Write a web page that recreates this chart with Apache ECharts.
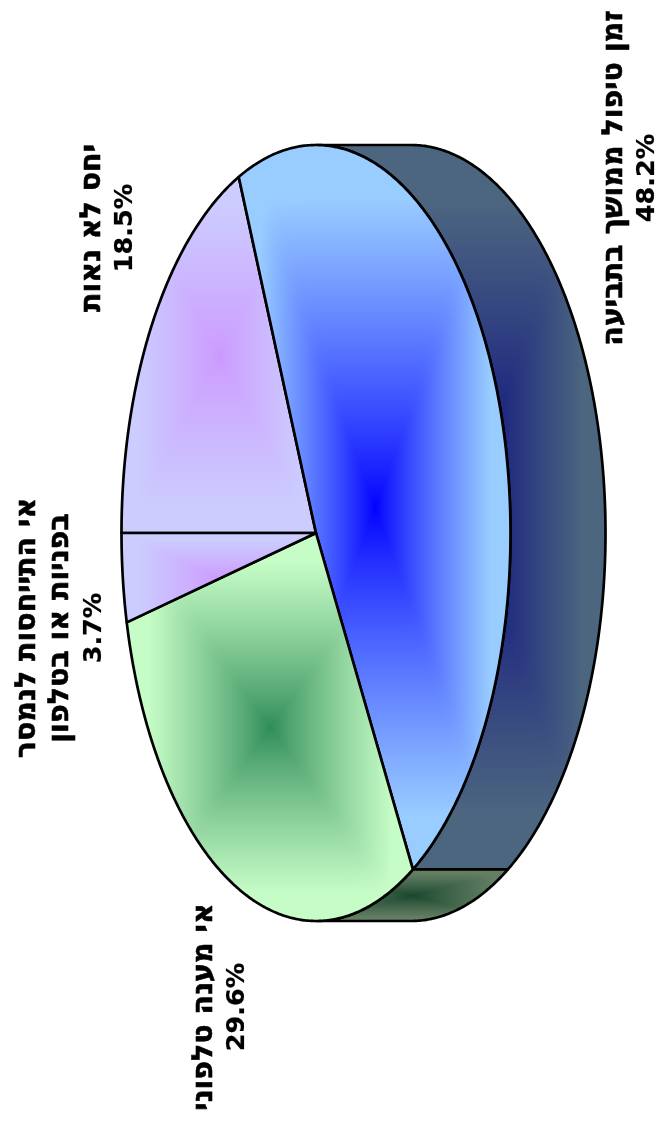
<!DOCTYPE html>
<html lang="he">
<head>
<meta charset="utf-8">
<title>תלונות</title>
<style>
html, body { margin: 0; padding: 0; background: #fff; }
#chart { width: 662px; height: 1124px; }
</style>
<script src="https://cdn.jsdelivr.net/npm/echarts@6/dist/echarts.min.js"></script>
</head>
<body>
<div id="chart"></div>
<script>
// Data, in drawing order around the disc
const categories = [
  'יחס לא נאות',
  'זמן טיפול ממושך בתביעה',
  'אי מענה טלפוני',
  'אי התייחסות לנמסר\nבפניות או בטלפון'
];
const values = [18.5, 48.2, 29.6, 3.7];

// Centre and outer colours of each slice's rectangular fill
const innerColors = [[204, 153, 255], [0, 0, 255], [46, 139, 87], [204, 153, 255]];
const outerColors = [[204, 204, 255], [153, 204, 255], [198, 252, 198], [204, 204, 255]];

// Disc geometry: the pie is turned a quarter turn, so the rim extends to the right
const WIDTH = 662, HEIGHT = 1124;
const CX = 316, CY = 533, RX = 194.5, RY = 388, DEPTH = 95;
const START_DEG = 180;
const FILL_REACH = 0.85, FILL_CURVE = 0.85, CORNER_SOFTNESS = 16;
const SIDE_SHADE = 0.5;
const LINE = 2.7;
const LINE_STEP = 33;
const labelCentres = [[109, 228], [631, 178], [221, 1007], [61, 628]];

const total = values.reduce((a, b) => a + b, 0);
let cursor = START_DEG;
const slices = values.map((v) => {
  const from = cursor;
  cursor += v / total * 360;
  return { from, to: cursor };
});

function ellipsePoint(deg) {
  const t = deg * Math.PI / 180;
  return [CX + RX * Math.cos(t), CY + RY * Math.sin(t)];
}

function arc(from, to) {
  const steps = Math.max(2, Math.ceil(Math.abs(to - from) * 2));
  const pts = [];
  for (let i = 0; i <= steps; i++) pts.push(ellipsePoint(from + (to - from) * i / steps));
  return pts;
}

function boundsOf(points) {
  const xs = points.map(p => p[0]), ys = points.map(p => p[1]);
  return { x0: Math.min(...xs), x1: Math.max(...xs), y0: Math.min(...ys), y1: Math.max(...ys) };
}

// Fill canvas whose colour runs from the middle of the box to its edges along soft rectangles
function boxFill(box, inner, outer) {
  const canvas = document.createElement('canvas');
  canvas.width = WIDTH;
  canvas.height = HEIGHT;
  const ctx = canvas.getContext('2d');
  const img = ctx.createImageData(WIDTH, HEIGHT);
  const mx = (box.x0 + box.x1) / 2, my = (box.y0 + box.y1) / 2;
  const hw = (box.x1 - box.x0) / 2, hh = (box.y1 - box.y0) / 2;
  const p = CORNER_SOFTNESS;
  for (let y = 0; y < HEIGHT; y++) {
    for (let x = 0; x < WIDTH; x++) {
      const dx = Math.abs(x - mx) / hw, dy = Math.abs(y - my) / hh;
      const big = Math.max(dx, dy, 1e-6);
      const d = big * Math.pow(Math.pow(dx / big, p) + Math.pow(dy / big, p), 1 / p);
      const t = Math.pow(Math.min(1, d / FILL_REACH), FILL_CURVE);
      const k = (y * WIDTH + x) * 4;
      img.data[k] = inner[0] + (outer[0] - inner[0]) * t;
      img.data[k + 1] = inner[1] + (outer[1] - inner[1]) * t;
      img.data[k + 2] = inner[2] + (outer[2] - inner[2]) * t;
      img.data[k + 3] = 255;
    }
  }
  ctx.putImageData(img, 0, 0);
  return { image: canvas, repeat: 'no-repeat' };
}

const shade = c => c.map(v => v * SIDE_SHADE);

// Part of a slice's arc that faces the rim side of the disc (from -90° to 90°)
function rimRange(s) {
  for (const turn of [0, 360, 720]) {
    const from = Math.max(s.from, turn - 90), to = Math.min(s.to, turn + 90);
    if (to > from) return [from, to];
  }
  return null;
}

const topShapes = slices.map((s) => [[CX, CY]].concat(arc(s.from, s.to)));
const topFills = topShapes.map((pts, i) => boxFill(boundsOf(pts), innerColors[i], outerColors[i]));

const rimShapes = slices.map((s) => {
  const range = rimRange(s);
  if (!range) return null;
  const front = arc(range[0], range[1]);
  const back = front.slice().reverse().map(p => [p[0] + DEPTH, p[1]]);
  return front.concat(back);
});
const rimFills = rimShapes.map((pts, i) =>
  pts ? boxFill(boundsOf(pts), shade(innerColors[i]), shade(outerColors[i])) : null);

const chart = echarts.init(document.getElementById('chart'), null, { renderer: 'canvas' });

chart.setOption({
  animation: false,
  backgroundColor: '#ffffff',
  series: [
    {
      type: 'custom',
      name: 'rim',
      coordinateSystem: 'none',
      silent: true,
      data: values,
      renderItem(params) {
        const i = params.dataIndex;
        if (!rimShapes[i]) return null;
        return {
          type: 'polygon',
          shape: { points: rimShapes[i] },
          style: { fill: rimFills[i], stroke: '#000', lineWidth: LINE, lineJoin: 'round' }
        };
      }
    },
    {
      type: 'custom',
      name: 'top',
      coordinateSystem: 'none',
      silent: true,
      data: values,
      renderItem(params) {
        const i = params.dataIndex;
        return {
          type: 'polygon',
          shape: { points: topShapes[i] },
          style: { fill: topFills[i], stroke: '#000', lineWidth: LINE, lineJoin: 'round' }
        };
      }
    },
    {
      type: 'custom',
      name: 'labels',
      coordinateSystem: 'none',
      silent: true,
      data: values,
      renderItem(params, api) {
        const i = params.dataIndex;
        const names = categories[i].split('\n');
        const lines = names.concat(api.value(0).toFixed(1) + '%');
        const middle = (lines.length - 1) / 2;
        return {
          type: 'group',
          children: lines.map((line, k) => ({
            type: 'text',
            x: labelCentres[i][0] + (k - middle) * LINE_STEP,
            y: labelCentres[i][1],
            rotation: Math.PI / 2,
            style: {
              text: line,
              font: (k < names.length ? 'bold 28.5px' : 'bold 25.5px') + ' "DejaVu Sans"',
              align: 'center',
              verticalAlign: 'middle',
              fill: '#000',
              stroke: '#000',
              lineWidth: k < names.length ? 0.6 : 0.2
            }
          }))
        };
      }
    }
  ]
});
</script>
</body>
</html>
